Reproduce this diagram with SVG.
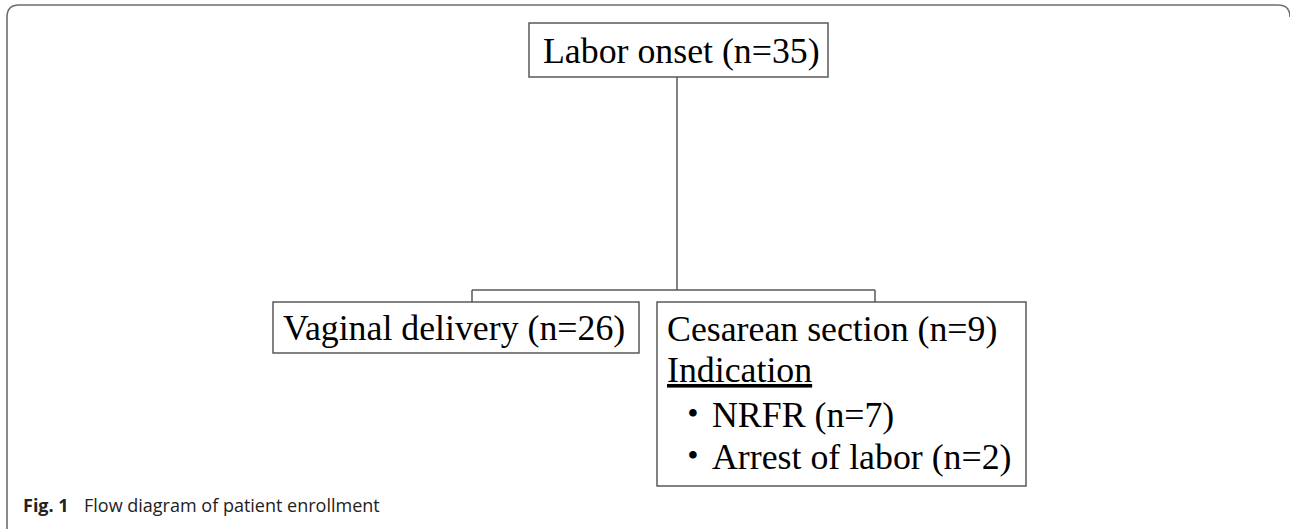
<svg xmlns="http://www.w3.org/2000/svg" width="1290" height="529" viewBox="0 0 1290 529">
<style>
.box{fill:#fff;stroke:#595959;stroke-width:1.5}
.t{font-family:"Liberation Serif","Times New Roman",serif;font-size:35.8px;fill:#000}
.dot{font-family:"Liberation Serif","Noto Sans CJK JP",serif;font-size:35.8px;fill:#000;text-anchor:middle}
.ln{stroke:#595959;stroke-width:1.5;fill:none}
.cap{font-family:"Open Sans","Noto Sans",sans-serif;font-size:18px;fill:#222}
</style>
<rect width="1290" height="529" fill="#fff"/>
<path d="M7 540 L7 17 Q7 5 19 5 L1278 5 Q1290 5 1290 17" fill="none" stroke="#6e6e6e" stroke-width="1.6"/>
<g id="connectors">
<line class="ln" x1="677" y1="77" x2="677" y2="290"/>
<line class="ln" x1="472" y1="290" x2="875" y2="290"/>
<line class="ln" x1="472" y1="290" x2="472" y2="302"/>
<line class="ln" x1="875" y1="290" x2="875" y2="302"/>
</g>
<g id="labor">
<rect class="box" x="529" y="23" width="299" height="54"/>
<text class="t" x="543" y="63">Labor onset (n=35)</text>
</g>
<g id="vaginal">
<rect class="box" x="273" y="302" width="366" height="51"/>
<text class="t" x="283" y="340">Vaginal delivery (n=26)</text>
</g>
<g id="cesarean">
<rect class="box" x="657" y="302" width="369" height="184"/>
<text class="t" x="667" y="341">Cesarean section (n=9)</text>
<text class="t" x="667" y="382" text-decoration="underline">Indication</text>
<text class="dot" x="693" y="427">・</text>
<text class="t" x="712" y="427">NRFR (n=7)</text>
<text class="dot" x="693" y="469">・</text>
<text class="t" x="712" y="469">Arrest of labor (n=2)</text>
</g>
<g id="caption">
<text class="cap" x="23" y="512"><tspan font-weight="bold">Fig. 1</tspan><tspan x="84">Flow diagram of patient enrollment</tspan></text>
</g>
</svg>
